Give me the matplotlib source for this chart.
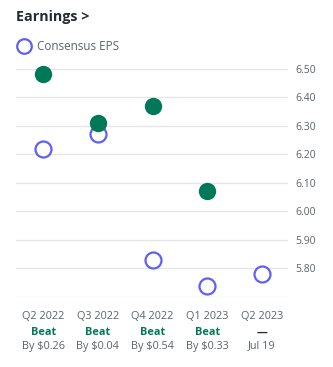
import matplotlib
matplotlib.use("Agg")
import matplotlib.pyplot as plt

quarters = ["Q2 2022", "Q3 2022", "Q4 2022", "Q1 2023", "Q2 2023"]
estimate = [6.22, 6.27, 5.83, 5.74, 5.78]
actual = [6.48, 6.31, 6.37, 6.07]
result = ["Beat", "Beat", "Beat", "Beat", "\u2014"]
detail = ["By $0.26", "By $0.04", "By $0.54", "By $0.33", "Jul 19"]
yticks = [5.80, 5.90, 6.00, 6.10, 6.20, 6.30, 6.40, 6.50]

green = "#017959"
blue = "#5f5ff6"
gray = "#5b636a"

plt.rcParams["font.family"] = ["Open Sans", "DejaVu Sans"]

fig = plt.figure(figsize=(3.33, 3.67), dpi=100)
ax = fig.add_axes([0.048, 0.1907, 0.8168, 0.6458])

x = list(range(len(quarters)))
ax.plot(x, estimate, linestyle="none", marker="o", markersize=11.5,
        markerfacecolor="white", markeredgecolor=blue, markeredgewidth=1.6, zorder=3)
ax.plot(x[:len(actual)], actual, linestyle="none", marker="o", markersize=12.5,
        markerfacecolor=green, markeredgecolor=green, markeredgewidth=0, zorder=4)

ax.set_xlim(-0.5, 4.48)
ax.set_ylim(5.70, 6.53)
ax.set_yticks([5.70] + yticks)
ax.set_yticklabels([""] + [f"{v:.2f}" for v in yticks])
ax.yaxis.tick_right()
ax.tick_params(axis="y", length=0, pad=5, labelsize=7.5, labelcolor=gray)
ax.set_xticks([])
ax.grid(axis="y", color="#e6e7eb", linewidth=1.0)
for s in ax.spines.values():
    s.set_visible(False)

tr = ax.get_xaxis_transform()
for i, q in enumerate(quarters):
    ax.text(i, -0.084, q, transform=tr, ha="center", va="center",
            fontsize=7.8, color=gray)
    rc = green if result[i] == "Beat" else "#232a31"
    ax.text(i, -0.148, result[i], transform=tr, ha="center", va="center",
            fontsize=7.8, color=rc, fontweight="bold")
    ax.text(i, -0.207, detail[i], transform=tr, ha="center", va="center",
            fontsize=7.8, color=gray)

fig.text(16 / 333, 1 - 17 / 367, "Earnings >", ha="left", va="center",
         fontsize=10.3, fontweight="bold", color="#232a31")
fig.text(37 / 333, 1 - 46 / 367, "Consensus EPS", ha="left", va="center",
         fontsize=8.4, color=gray)
fig.add_artist(plt.Line2D([24 / 333], [1 - 46 / 367], marker="o", markersize=10.5,
                          markerfacecolor="white", markeredgecolor=blue,
                          markeredgewidth=1.6, linestyle="none"))

fig.savefig("out.png", dpi=100, facecolor="white")
